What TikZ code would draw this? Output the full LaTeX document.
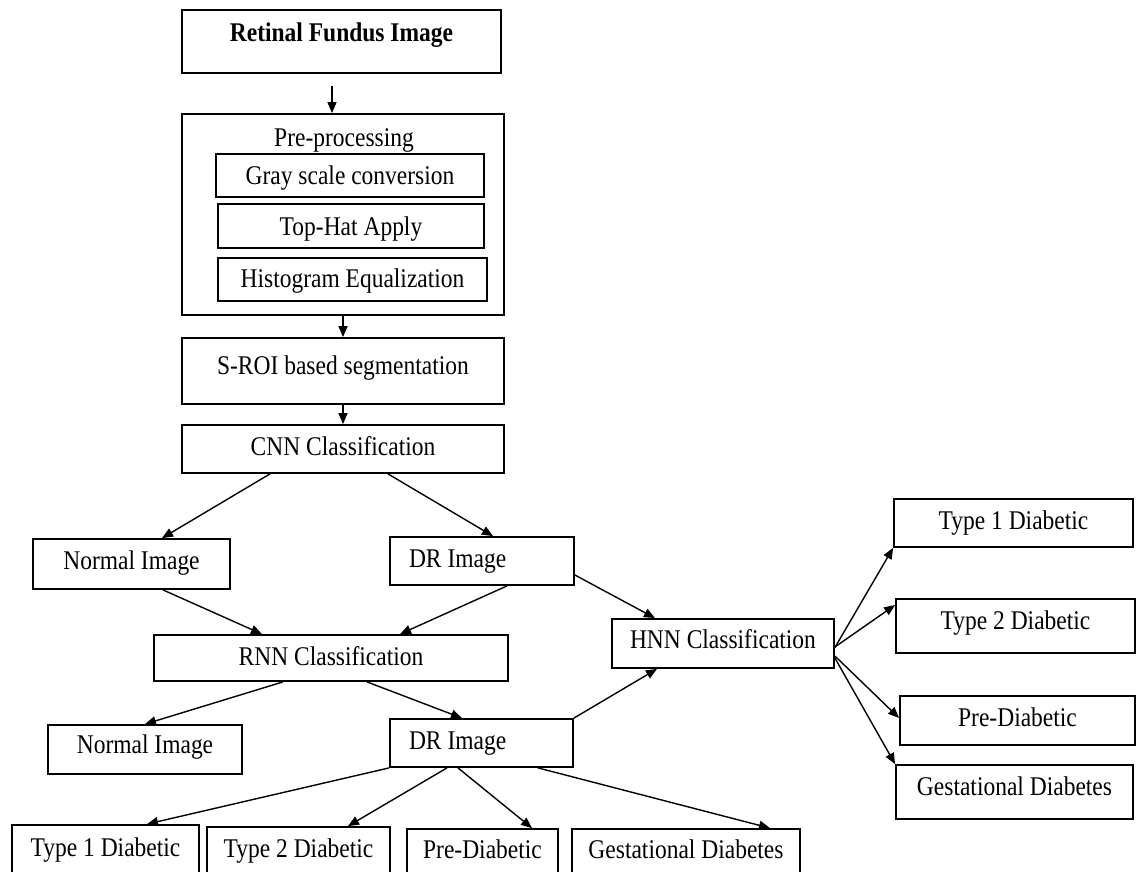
\documentclass[tikz,border=0pt]{standalone}
\usepackage{fontspec}
\setmainfont{Liberation Serif}[FakeStretch=0.87]
\usetikzlibrary{arrows.meta}
\begin{document}
\begin{tikzpicture}[x=1pt,y=-1pt,
    txt/.style={font=\fontsize{27}{32}\selectfont,text height=18pt,text depth=6pt},
    box/.style={txt,draw,line width=1.8pt,rectangle,inner sep=8pt},
    lbox/.style={box,align=flush left,inner xsep=19pt},
    arr/.style={-{Triangle[length=11pt,width=9pt]},line width=1.4pt}]
  \useasboundingbox (0,0) rectangle (1136,871);
  \draw
    (341.5,41.5) node[box,minimum width=319pt,minimum height=63pt,text depth=19pt,
      font=\fontsize{27}{32}\selectfont\bfseries] (fundus){Retinal Fundus Image}
    (343,214.5) node[box,minimum width=322pt,minimum height=201pt] (pre){}
    (344,137) node[txt,inner sep=0pt,text depth=0pt] (pretitle){Pre-processing}
    (350,175.5) node[box,minimum width=268pt,minimum height=43pt,text depth=0pt] (gray){Gray scale conversion}
    (351,226) node[box,minimum width=266pt,minimum height=44pt,text depth=0pt] (tophat){Top-Hat Apply}
    (352.5,279.5) node[box,minimum width=269pt,minimum height=43pt,text depth=3pt] (histeq){Histogram Equalization}
    (343,371) node[box,minimum width=322pt,minimum height=66pt,text depth=12pt] (sroi){S-ROI based segmentation}
    (343,449) node[box,minimum width=322pt,minimum height=48pt] (cnn){CNN Classification}
    (131.5,564) node[box,minimum width=197pt,minimum height=50pt,text depth=8pt] (normalA){Normal Image}
    (482,561) node[lbox,text width=146pt,minimum height=48pt] (drA){DR Image}
    (331,658) node[box,minimum width=354pt,minimum height=46pt,text depth=4pt] (rnn){RNN Classification}
    (723,643.5) node[box,minimum width=222pt,minimum height=49pt,text depth=9pt] (hnn){HNN Classification}
    (145,749.5) node[box,minimum width=194pt,minimum height=49pt,text depth=11pt] (normalB){Normal Image}
    (481.5,743) node[lbox,text width=145pt,minimum height=48pt] (drB){DR Image}
    (105.5,855) node[box,minimum width=187pt,minimum height=60pt,text depth=16pt] (typeAb){Type 1 Diabetic}
    (298.5,856) node[box,minimum width=183pt,minimum height=58pt,text depth=16pt] (typeBb){Type 2 Diabetic}
    (482.5,857) node[box,minimum width=151pt,minimum height=56pt,text depth=16pt] (preb){Pre-Diabetic}
    (686,857) node[box,minimum width=228pt,minimum height=56pt,text depth=16pt] (gestb){Gestational Diabetes}
    (1013.5,523) node[box,minimum width=239pt,minimum height=48pt] (typeAr){Type 1 Diabetic}
    (1015.5,626) node[box,minimum width=239pt,minimum height=54pt,text depth=12pt] (typeBr){Type 2 Diabetic}
    (1017.5,720.5) node[box,minimum width=235pt,minimum height=49pt,text depth=7pt] (prer){Pre-Diabetic}
    (1014.5,792) node[box,minimum width=237pt,minimum height=54pt,text depth=12pt] (gestr){Gestational Diabetes};
  \begin{scope}[arr]
    \draw ([xshift=-9.5pt,yshift=-12pt]fundus.south) to ([xshift=-11pt]pre.north);
    \draw (pre) to (sroi);
    \draw (sroi) to (cnn);
    \draw ([xshift=-73pt]cnn.south) to ([xshift=30.5pt]normalA.north);
    \draw ([xshift=45pt]cnn.south) to ([xshift=11pt]drA.north);
    \draw ([xshift=31.5pt]normalA.south) to ([xshift=-69pt]rnn.north);
    \draw ([xshift=25pt]drA.south) to ([xshift=69pt]rnn.north);
    \draw ([yshift=-14pt]drA.east) to ([xshift=-68pt]hnn.north);
    \draw ([xshift=-48pt]rnn.south) to (normalB.north);
    \draw ([xshift=36pt]rnn.south) to ([xshift=-19.5pt]drB.north);
    \draw (drB.north east) to ([xshift=-66pt]hnn.south);
    \draw (drB.south west) to ([xshift=41.5pt]typeAb.north);
    \draw ([xshift=-34.5pt]drB.south) to ([xshift=49.5pt]typeBb.north);
    \draw ([xshift=-23.5pt]drB.south) to ([xshift=49.5pt]preb.north);
    \draw ([xshift=56.5pt]drB.south) to ([xshift=84pt]gestb.north);
    \draw ([yshift=-4pt]hnn.east) to (typeAr.south west);
    \draw ([yshift=-3.5pt]hnn.east) to ([yshift=21pt]typeBr.west);
    \draw ([yshift=-12.5pt]hnn.east) to ([yshift=2.5pt]prer.west);
    \draw ([yshift=-14.5pt]hnn.east) to (gestr.north west);
  \end{scope}
\end{tikzpicture}
\end{document}
